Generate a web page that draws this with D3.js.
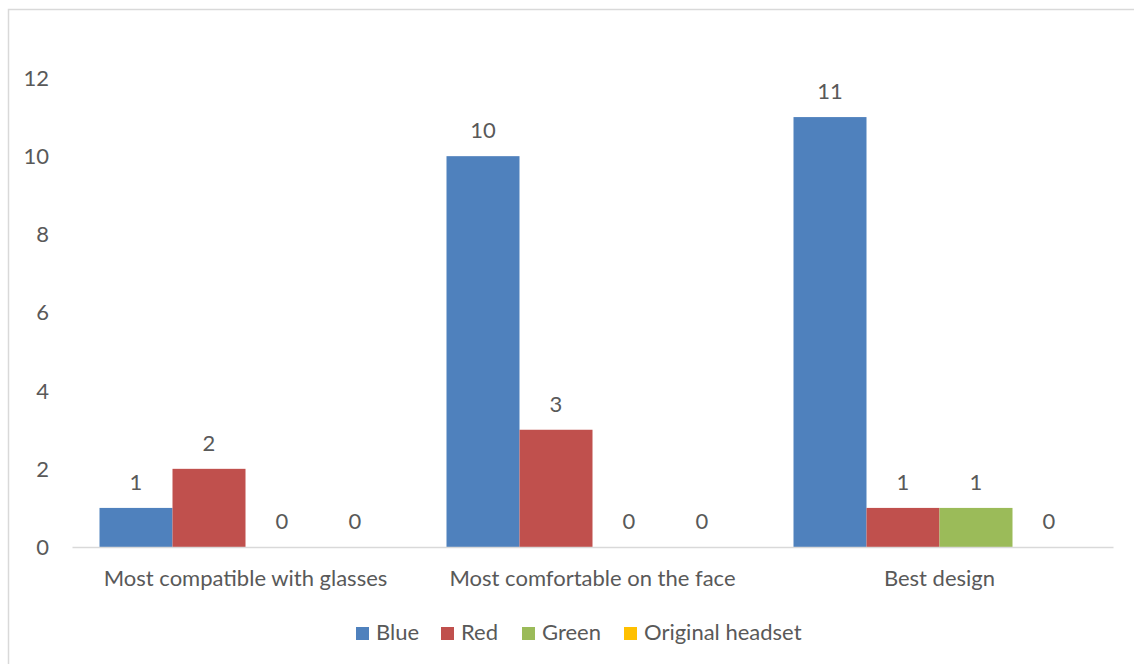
<!DOCTYPE html>
<html>
<head>
<meta charset="utf-8">
<script src="https://cdn.jsdelivr.net/npm/d3@7"></script>
<style>
  html, body { margin: 0; padding: 0; background: #fff; }
  svg { display: block; }
  text { font-family: Lato, "Open Sans", sans-serif; fill: #595959; }
</style>
</head>
<body>
<svg id="chart" width="1134" height="664"></svg>
<script>
// Survey categories and vote counts per headset colour
const categories = ["Most compatible with glasses", "Most comfortable on the face", "Best design"];
const seriesNames = ["Blue", "Red", "Green", "Original headset"];
const blueValues = [1, 10, 11];
const redValues = [2, 3, 1];
const greenValues = [0, 0, 1];
const originalValues = [0, 0, 0];
const yTicks = [0, 2, 4, 6, 8, 10, 12];

const seriesValues = [blueValues, redValues, greenValues, originalValues];
const colors = ["#4f81bd", "#c0504d", "#9bbb59", "#ffc000"];
const fontSize = "22px";

const svg = d3.select("#chart");

// Outer chart frame
svg.append("rect")
  .attr("x", 8.5).attr("y", 9.5)
  .attr("width", 1300).attr("height", 800)
  .attr("fill", "none").attr("stroke", "#d9d9d9").attr("stroke-width", 1.5);

const plot = { left: 72, right: 1113, top: 78, bottom: 547 };

const y = d3.scaleLinear().domain([0, 12]).range([plot.bottom, plot.top]);
const x0 = d3.scaleBand().domain(categories).range([plot.left, plot.right])
  .paddingInner(0).paddingOuter(0);
const x1 = d3.scaleBand().domain(seriesNames)
  .range([27.5, x0.bandwidth() - 27.5]).padding(0);

// Y axis labels (no axis line, no gridlines)
const yAxis = d3.axisLeft(y).tickValues(yTicks).tickSize(0).tickPadding(0);
const yg = svg.append("g").attr("transform", `translate(49,0)`).call(yAxis);
yg.select(".domain").remove();
yg.selectAll("text")
  .attr("text-anchor", "end")
  .attr("dy", "0.34em")
  .style("font-size", fontSize).attr("fill", "#595959")
  .attr("font-family", "Lato, 'Open Sans', sans-serif");

// Bars with value labels
const groups = svg.append("g").selectAll("g")
  .data(categories)
  .join("g")
  .attr("transform", d => `translate(${x0(d)},0)`);

groups.each(function(cat, ci) {
  const g = d3.select(this);
  seriesNames.forEach((s, si) => {
    const v = seriesValues[si][ci];
    g.append("rect")
      .attr("x", x1(s))
      .attr("y", y(v))
      .attr("width", x1.bandwidth())
      .attr("height", y(0) - y(v))
      .attr("fill", colors[si]);
    g.append("text")
      .attr("x", x1(s) + x1.bandwidth() / 2)
      .attr("y", y(v) - 18)
      .attr("text-anchor", "middle")
      .style("font-size", fontSize)
      .text(v);
  });
});

// Category axis
const xAxis = d3.axisBottom(x0).tickSize(0).tickPadding(0);
const xg = svg.append("g").attr("transform", `translate(0,${plot.bottom})`).call(xAxis);
xg.select(".domain").attr("stroke", "#d9d9d9").attr("stroke-width", 1.5);
xg.selectAll("text")
  .attr("dy", "0")
  .attr("y", 39)
  .style("font-size", fontSize).attr("fill", "#595959")
  .attr("font-family", "Lato, 'Open Sans', sans-serif");

// Legend
const legendItems = [
  { name: seriesNames[0], x: 356 },
  { name: seriesNames[1], x: 441 },
  { name: seriesNames[2], x: 522 },
  { name: seriesNames[3], x: 624 }
];
const legend = svg.append("g");
legendItems.forEach((d, i) => {
  legend.append("rect")
    .attr("x", d.x).attr("y", 627)
    .attr("width", 13).attr("height", 13)
    .attr("fill", colors[i]);
  legend.append("text")
    .attr("x", d.x + 20).attr("y", 640)
    .style("font-size", fontSize)
    .text(d.name);
});
</script>
</body>
</html>
